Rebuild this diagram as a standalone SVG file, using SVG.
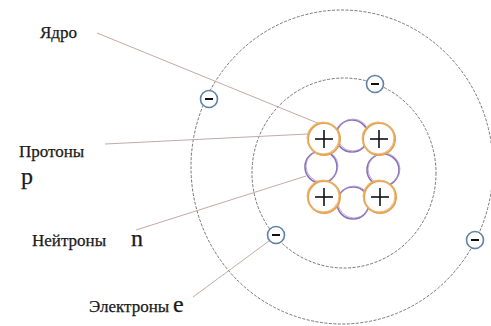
<svg xmlns="http://www.w3.org/2000/svg" width="491" height="326" viewBox="0 0 491 326">
  <style>
    .orbit { fill: none; stroke: #555; stroke-width: 0.8; stroke-dasharray: 3 1.5; }
    .lead { stroke: #c4aaa8; stroke-width: 1; fill: none; }
    text { font-family: "Liberation Serif", "DejaVu Serif", serif; fill: #1a1a1a; stroke: #1a1a1a; stroke-width: 0.25; }
    .label { font-size: 17px; }
    .sym { font-size: 24px; }
    .proton { fill: #fff; stroke: #e6a24e; stroke-width: 2; }
    .proton-edge { fill: none; stroke: #eab878; stroke-width: 1; }
    .neutron { fill: #fff; stroke: #8a70b8; stroke-width: 1.6; }
    .neutron-edge { fill: none; stroke: #a896cc; stroke-width: 0.8; }
    .plus { stroke: #111; stroke-width: 1.6; }
    .electron { fill: #fff; stroke: #5d82a6; stroke-width: 1.6; }
    .minus { stroke: #111; stroke-width: 2; }
  </style>
  <defs>
    <g id="e-">
      <circle class="electron" r="8.5"/>
      <line class="minus" x1="-4" y1="0" x2="4" y2="0"/>
    </g>
    <g id="n0">
      <circle class="neutron" r="16"/>
      <circle class="neutron-edge" cx="1" cy="-1" r="16"/>
    </g>
    <g id="p+">
      <circle class="proton" r="16"/>
      <circle class="proton-edge" cx="-1" cy="-1" r="16"/>
      <line class="plus" x1="-9" y1="0" x2="9" y2="0"/>
      <line class="plus" x1="0" y1="-9" x2="0" y2="9"/>
    </g>
  </defs>

  <rect width="491" height="326" fill="#fff"/>

  <!-- electron shells -->
  <g id="orbits">
    <ellipse class="orbit" cx="342" cy="167" rx="151" ry="157"/>
    <ellipse class="orbit" cx="344" cy="173" rx="92" ry="95"/>
  </g>

  <!-- leader lines from labels -->
  <g id="connectors">
    <line class="lead" x1="97" y1="33" x2="320" y2="124"/>
    <line class="lead" x1="105" y1="144" x2="308" y2="134"/>
    <line class="lead" x1="136" y1="230" x2="306" y2="176"/>
    <line class="lead" x1="193" y1="297" x2="269" y2="241"/>
  </g>

  <!-- nucleus: neutrons packed between, protons at the corners in front -->
  <g id="nucleus">
    <use href="#n0" x="352" y="136"/>
    <use href="#n0" x="321" y="167"/>
    <use href="#n0" x="383" y="170"/>
    <use href="#n0" x="353" y="203"/>
    <use href="#p+" x="324" y="139"/>
    <use href="#p+" x="379" y="139"/>
    <use href="#p+" x="324" y="197"/>
    <use href="#p+" x="380" y="197"/>
  </g>

  <!-- electrons on the shells -->
  <g id="electrons">
    <use href="#e-" x="209" y="99"/>
    <use href="#e-" x="375" y="84"/>
    <use href="#e-" x="276" y="235"/>
    <use href="#e-" x="475" y="240"/>
  </g>

  <g id="label-nucleus"><text class="label" x="40" y="38">Ядро</text></g>
  <g id="label-protons">
    <text class="label" x="19" y="157">Протоны</text>
    <text class="sym" x="21" y="184">p</text>
  </g>
  <g id="label-neutrons">
    <text class="label" x="32" y="246">Нейтроны</text>
    <text class="sym" x="131" y="246">n</text>
  </g>
  <g id="label-electrons">
    <text class="label" x="89" y="312">Электроны</text>
    <text class="sym" x="173" y="312">e</text>
  </g>
</svg>
